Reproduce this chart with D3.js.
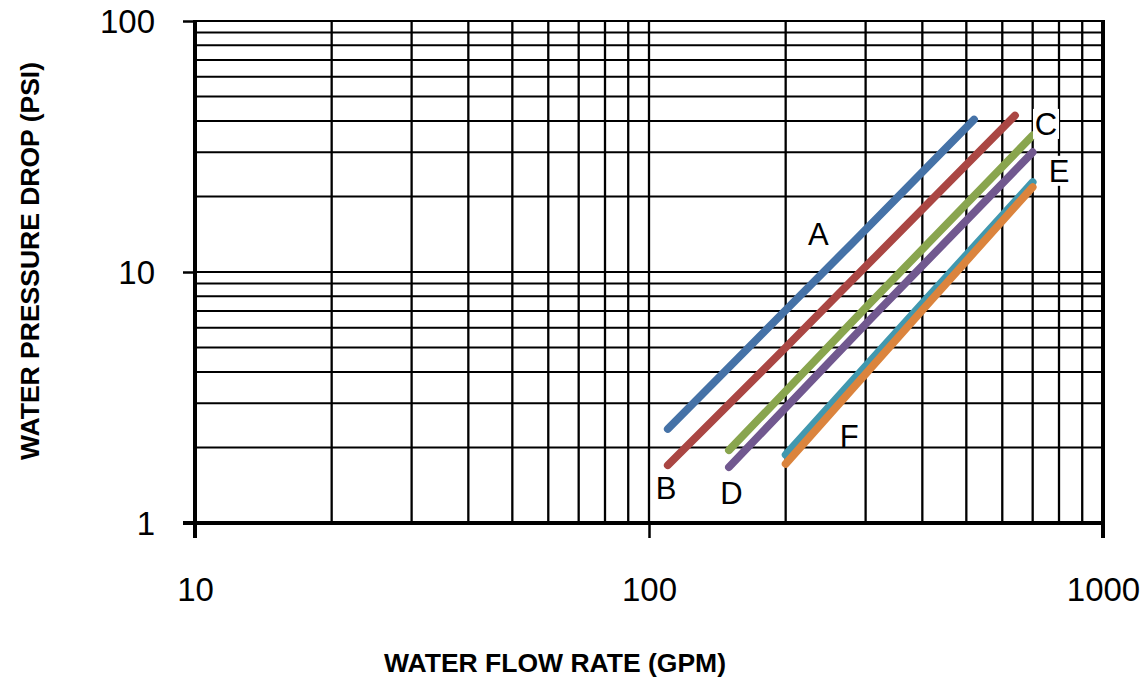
<!DOCTYPE html>
<html>
<head>
<meta charset="utf-8">
<script src="https://cdn.jsdelivr.net/npm/d3@7"></script>
<style>
  html, body { margin: 0; padding: 0; background: #fff; }
  svg { display: block; font-family: "Liberation Sans", Arial, sans-serif; }
</style>
</head>
<body>
<svg id="chart" width="1146" height="679"></svg>
<script>
// ---- data ----
const seriesNames = ["A", "B", "C", "D", "E", "F"];
const flowA = [110, 280, 520];
const dropA = [2.37, 13.0, 40.5];
const flowB = [110, 200, 400, 640];
const dropB = [1.70, 5.0, 17.8, 42];
const flowC = [150, 300, 700];
const dropC = [1.95, 7.2, 35];
const flowD = [150, 300, 700];
const dropD = [1.67, 6.2, 30];
const flowE = [200, 400, 700];
const dropE = [1.87, 7.5, 22.8];
const flowF = [200, 400, 700];
const dropF = [1.72, 7.05, 21.8];
const xTickValues = [10, 100, 1000];
const yTickValues = [1, 10, 100];
const xMinorGrid = [20, 30, 40, 50, 60, 70, 80, 90, 100, 200, 300, 400, 500, 600, 700, 800, 900];
const yMinorGrid = [2, 3, 4, 5, 6, 7, 8, 9, 10, 20, 30, 40, 50, 60, 70, 80, 90, 100];
const xTitle = "WATER FLOW RATE (GPM)";
const yTitle = "WATER PRESSURE DROP (PSI)";
// label anchor values (flow, drop) for series letters
const labelFlow = [236, 109, 749, 152, 800, 276];
const labelDrop = [14.2, 1.38, 38.9, 1.32, 25.3, 2.22];

const colors = ["#4572A7", "#AA4643", "#89A54E", "#71588F", "#4198AF", "#DB843D"];
const series = [
  { name: "A", flow: flowA, drop: dropA },
  { name: "B", flow: flowB, drop: dropB },
  { name: "C", flow: flowC, drop: dropC },
  { name: "D", flow: flowD, drop: dropD },
  { name: "E", flow: flowE, drop: dropE },
  { name: "F", flow: flowF, drop: dropF }
];

const svg = d3.select("#chart");
const pL = 195, pR = 1103, pT = 21, pB = 523;

const x = d3.scaleLog().domain([10, 1000]).range([pL, pR]);
const y = d3.scaleLog().domain([1, 100]).range([pB, pT]);

// gridlines
const grid = svg.append("g");
grid.selectAll("line.v").data(xMinorGrid).enter().append("line")
  .attr("x1", d => x(d)).attr("x2", d => x(d))
  .attr("y1", pT).attr("y2", pB)
  .attr("stroke", "#000").attr("stroke-width", 2.3);
grid.selectAll("line.h").data(yMinorGrid).enter().append("line")
  .attr("x1", pL).attr("x2", pR)
  .attr("y1", d => y(d)).attr("y2", d => y(d))
  .attr("stroke", "#000").attr("stroke-width", 2);

// right border
svg.append("line").attr("x1", x(1000)).attr("x2", x(1000))
  .attr("y1", pT - 1).attr("y2", pB + 15)
  .attr("stroke", "#000").attr("stroke-width", 4);

// axes
const yAxis = d3.axisLeft(y).tickValues(yTickValues).tickFormat(d3.format("d"))
  .tickSize(12).tickPadding(28);
const gy = svg.append("g").attr("transform", `translate(${pL},0)`).call(yAxis);
const xAxis = d3.axisBottom(x).tickValues(xTickValues).tickFormat(d3.format("d"))
  .tickSize(15).tickPadding(40);
const gx = svg.append("g").attr("transform", `translate(0,${pB})`).call(xAxis);

[gx, gy].forEach(g => {
  g.select(".domain").attr("stroke", "#000").attr("stroke-width", 4);
  g.selectAll(".tick line").attr("stroke", "#000").attr("stroke-width", 2.5);
  g.selectAll(".tick text").attr("fill", "#000")
    .style("font-size", "33px").style("font-family", "'Liberation Sans', Arial, sans-serif");
});
gx.select(".domain").attr("d", `M${pL - 12},0H${pR + 2}`);
gy.select(".domain").attr("d", `M0,${pB + 15}V${pT - 1}`);
gx.selectAll(".tick text").attr("dy", "0.71em").attr("y", 55);
gy.selectAll(".tick text").attr("dy", "0.35em");

// series lines
const line = d3.line().x(d => x(d[0])).y(d => y(d[1])).curve(d3.curveMonotoneX);
svg.append("g").selectAll("path").data(series).enter().append("path")
  .attr("d", s => line(s.flow.map((f, i) => [f, s.drop[i]])))
  .attr("fill", "none")
  .attr("stroke", (s, i) => colors[i])
  .attr("stroke-width", 7.8)
  .attr("stroke-linecap", "round")
  .attr("stroke-linejoin", "round");

// series letter labels
const lg = svg.append("g");
seriesNames.forEach((n, i) => {
  const cx = x(labelFlow[i]), cy = y(labelDrop[i]);
  if (n === "C" || n === "E") {
    lg.append("rect").attr("x", cx - 13).attr("y", cy - 15).attr("width", 26).attr("height", 30)
      .attr("fill", "#fff");
  }
  lg.append("text").attr("x", cx).attr("y", cy).attr("dy", "0.36em")
    .attr("text-anchor", "middle").attr("fill", "#000")
    .style("font-size", "31px").text(n);
});

// axis titles
svg.append("text").attr("x", 555).attr("y", 672)
  .attr("text-anchor", "middle").style("font-size", "26.5px").style("font-weight", "bold")
  .text(xTitle);
svg.append("text").attr("transform", "translate(30,261) rotate(-90)")
  .attr("text-anchor", "middle").attr("dy", "0.35em")
  .style("font-size", "26.5px").style("font-weight", "bold")
  .text(yTitle);
</script>
</body>
</html>
